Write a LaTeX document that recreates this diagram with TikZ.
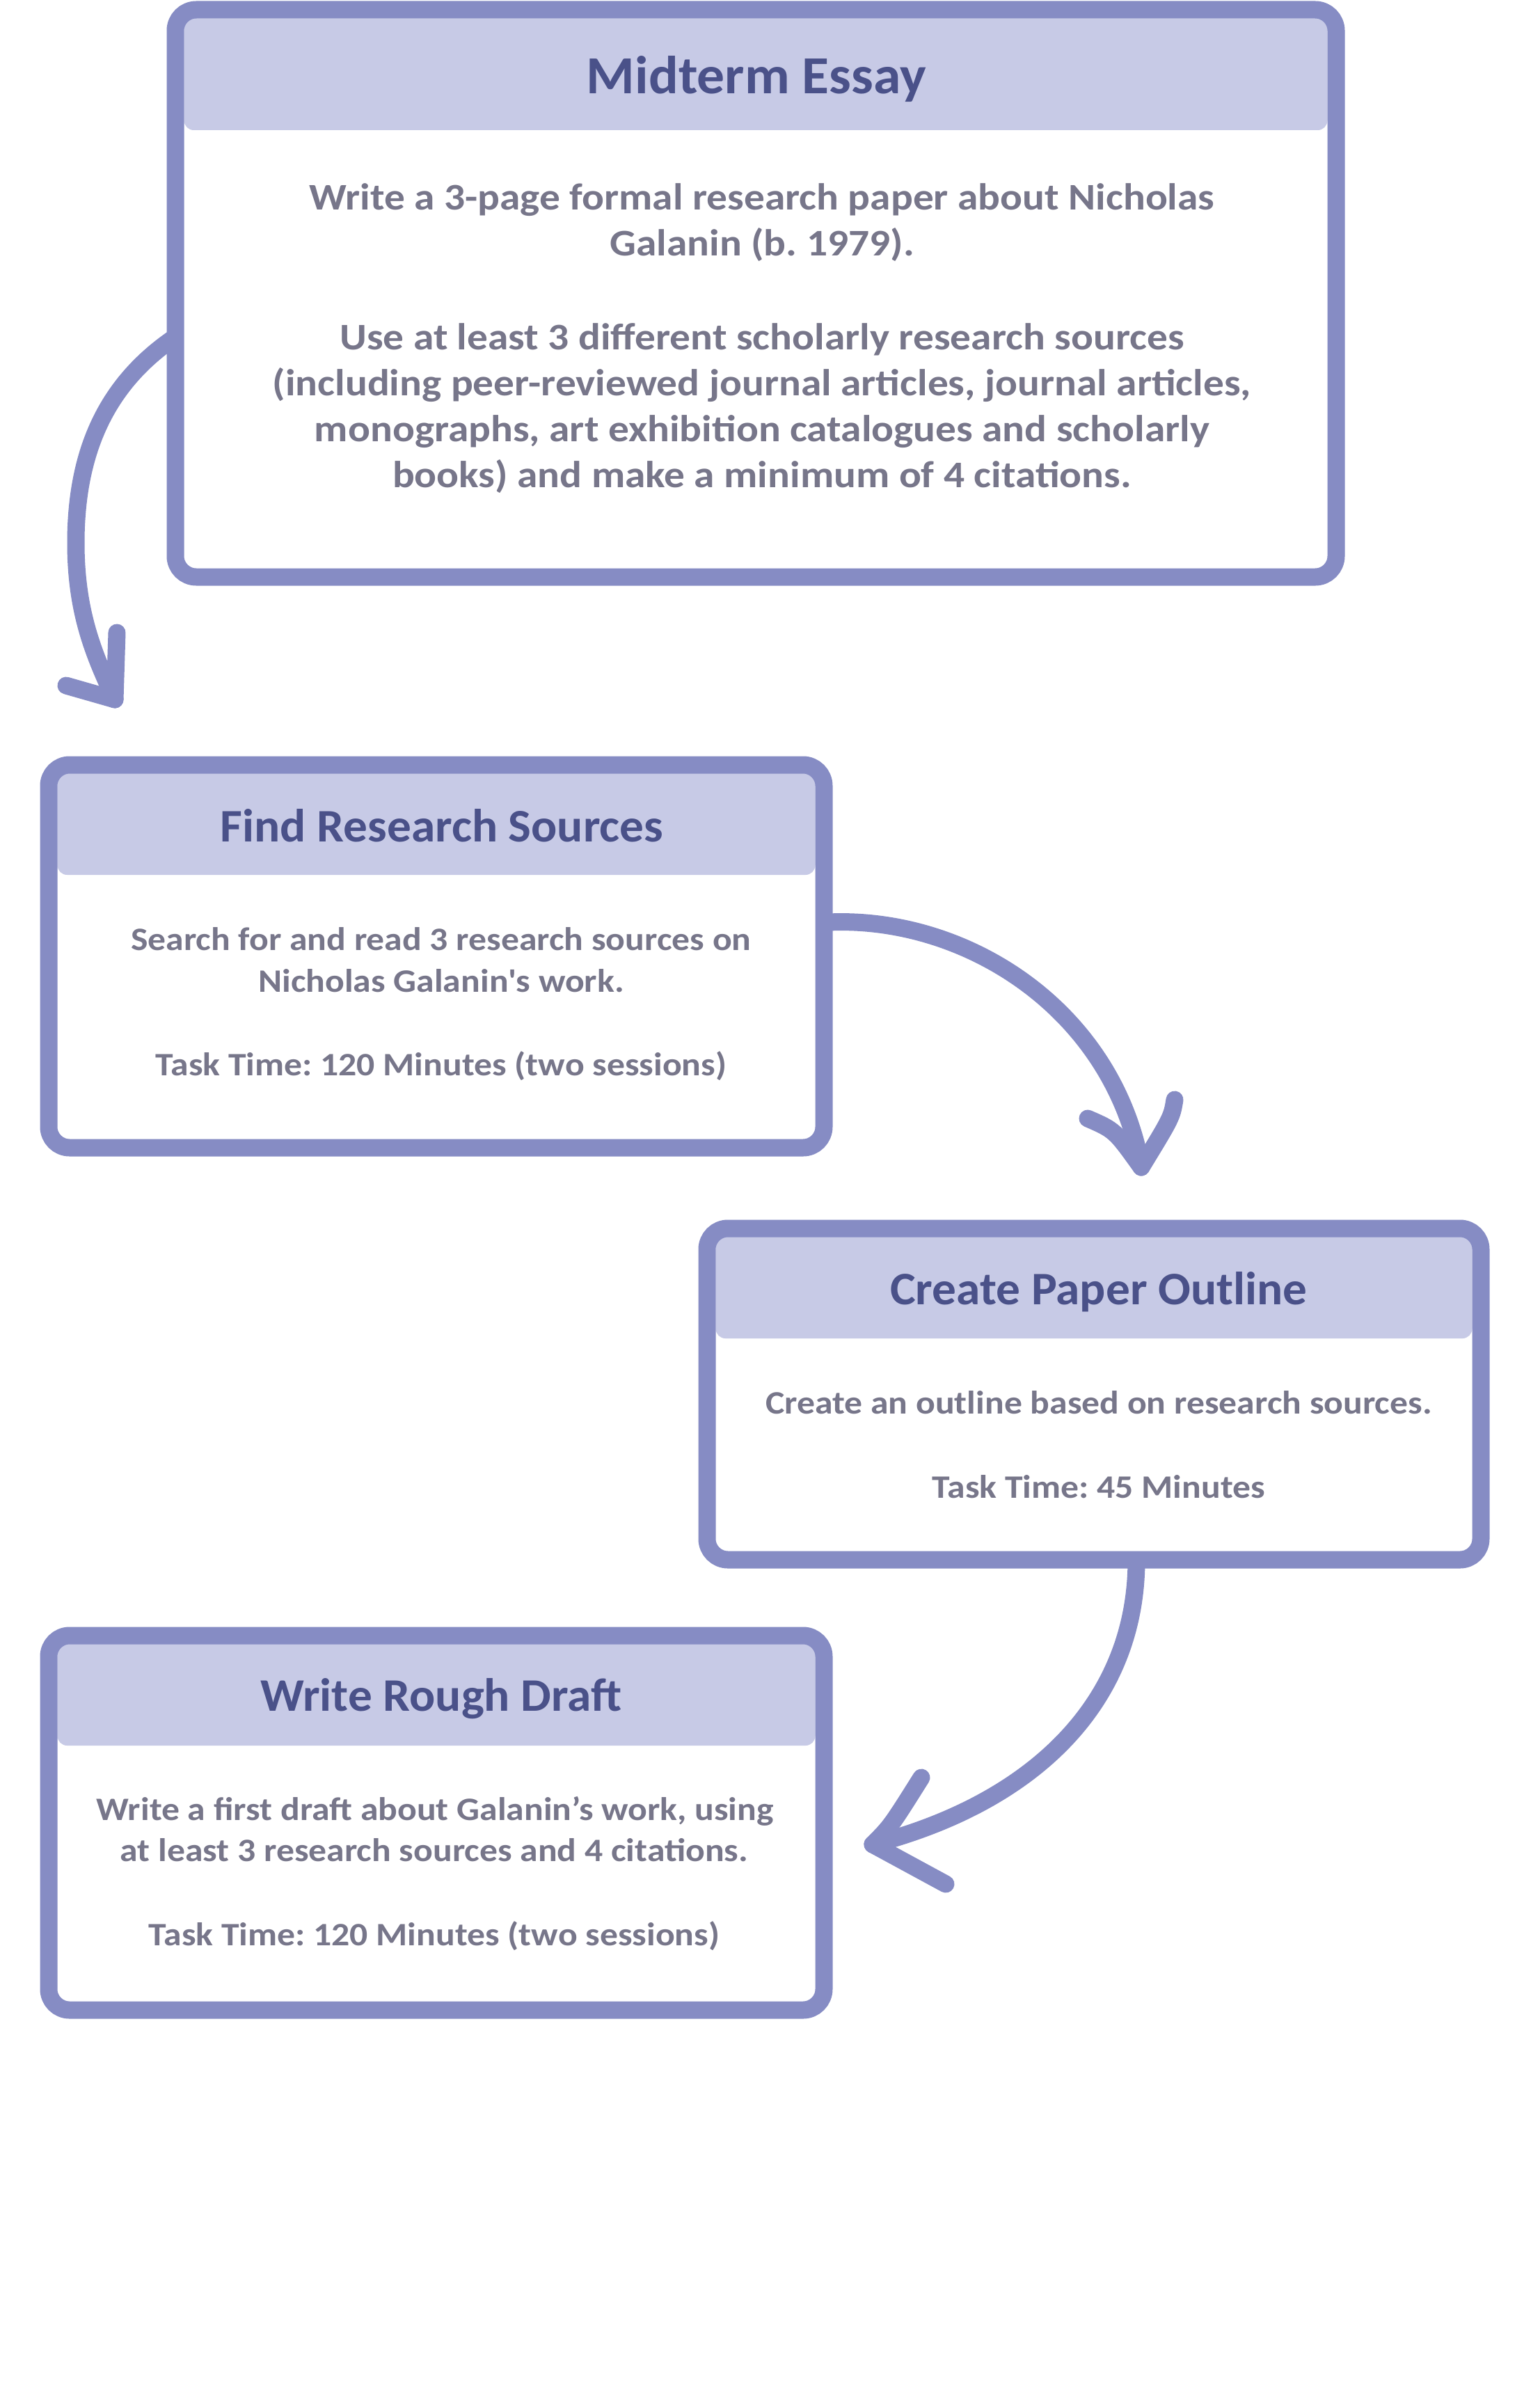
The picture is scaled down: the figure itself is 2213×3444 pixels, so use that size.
\documentclass[tikz,border=0pt]{standalone}
\usepackage{fontspec}
\setmainfont{Carlito}
\newfontfamily\bodyfont{Carlito}[FakeStretch=1.10]
\newfontfamily\titlefont{Carlito}[FakeStretch=1.035]
\frenchspacing
\usetikzlibrary{calc}
\definecolor{bordercol}{HTML}{868CC4}
\definecolor{headcol}{HTML}{C7CAE6}
\definecolor{titlecol}{HTML}{4A5189}
\definecolor{bodycol}{HTML}{77768A}
\tikzset{
  boxstyle/.style={draw=bordercol, line width=25pt, rounded corners=30pt, inner sep=0pt},
  headfill/.style={fill=headcol, rounded corners=14pt},
  titlebig/.style={text=titlecol, font=\titlefont\bfseries\fontsize{77}{80}\selectfont, anchor=base, inner sep=0pt},
  titletext/.style={text=titlecol, font=\titlefont\bfseries\fontsize{67}{72}\selectfont, anchor=base, inner sep=0pt},
  bodybig/.style={text=bodycol, font=\bodyfont\bfseries\fontsize{54}{60}\selectfont, anchor=base, inner sep=0pt},
  bodytext/.style={text=bodycol, font=\bodyfont\bfseries\fontsize{47}{54}\selectfont, anchor=base, inner sep=0pt},
  conn/.style={draw=bordercol, line width=25pt, line cap=round, line join=round},
}
\begin{document}
\begin{tikzpicture}[x=1pt,y=-1pt]
\useasboundingbox (0,0) rectangle (2213,3444);
\fill[white] (0,0) rectangle (2213,3444);

% header bands
\fill[headfill] (264.5,14) rectangle (1907.5,187);
\fill[headfill] (82.5,1099) rectangle (1171.5,1257);
\fill[headfill] (1028.5,1765) rectangle (2115.5,1923);
\fill[headfill] (82.5,2350) rectangle (1171.5,2508);

% boxes
\node[boxstyle, minimum width=1668pt, minimum height=815pt] (b1) at (1086,421.5) {};
\node[boxstyle, minimum width=1114pt, minimum height=550pt] (b2) at (627,1374) {};
\node[boxstyle, minimum width=1112pt, minimum height=476pt] (b3) at (1572,2003) {};
\node[boxstyle, minimum width=1114pt, minimum height=538pt] (b4) at (627,2619) {};

% box 1 texts
\node[titlebig] (h1) at (1087,135) {Midterm Essay};
\node[bodybig] (l1a) at (1095,301) {Write a 3-page formal research paper about Nicholas};
\node[bodybig] (l1b) at (1095,367) {Galanin (b. 1979).};
\node[bodybig] (l1c) at (1095,502) {Use at least 3 different scholarly research sources};
\node[bodybig] (l1d) at (1095,568) {(including peer-reviewed journal articles, journal articles,};
\node[bodybig] (l1e) at (1095,634) {monographs, art exhibition catalogues and scholarly};
\node[bodybig] (l1f) at (1095,700) {books) and make a minimum of 4 citations.};

% box 2 texts
\node[titletext] (h2) at (635,1209) {Find Research Sources};
\node[bodytext] (l2a) at (634,1365) {Search for and read 3 research sources on};
\node[bodytext] (l2b) at (634,1425) {Nicholas Galanin\textquotesingle s work.};
\node[bodytext] (l2c) at (634,1545) {Task Time: 120 Minutes (two sessions)};

% box 3 texts
\node[titletext] (h3) at (1579,1874) {Create Paper Outline};
\node[bodytext] (l3a) at (1579,2031) {Create an outline based on research sources.};
\node[bodytext] (l3b) at (1579,2152) {Task Time: 45 Minutes};

% box 4 texts
\node[titletext] (h4) at (634,2458) {Write Rough Draft};
\node[bodytext] (l4a) at (625,2615) {Write a first draft about Galanin’s work, using};
\node[bodytext] (l4b) at (624,2674) {at least 3 research sources and 4 citations.};
\node[bodytext] (l4c) at (624,2795) {Task Time: 120 Minutes (two sessions)};

% connectors
\coordinate (t1) at (165,1005);
\coordinate (t2) at (1640,1677);
\coordinate (t3) at (1254,2650);

\draw[conn] ($(b1.west)+(12,63)$) .. controls (152,552) and (109,650) .. (109,780)
  .. controls (109,880) and (135,941) .. (t1);
\draw[conn] (t1) -- (168,909);
\draw[conn] (t1) -- (95,985);

\draw[conn] ($(b2.east)+(-6,-49)$) .. controls (1390,1316) and (1600,1452) .. (t2);
\draw[conn] (t2) .. controls (1602,1624) .. (1563,1607);
\draw[conn] (t2) .. controls (1684,1605) .. (1688,1580);

\draw[conn] ($(b3.south)+(61,-12)$) .. controls (1633,2441) and (1492,2588) .. (t3);
\draw[conn] (t3) .. controls (1280,2624) .. (1324,2554);
\draw[conn] (t3) -- (1359,2707);
\end{tikzpicture}
\end{document}
